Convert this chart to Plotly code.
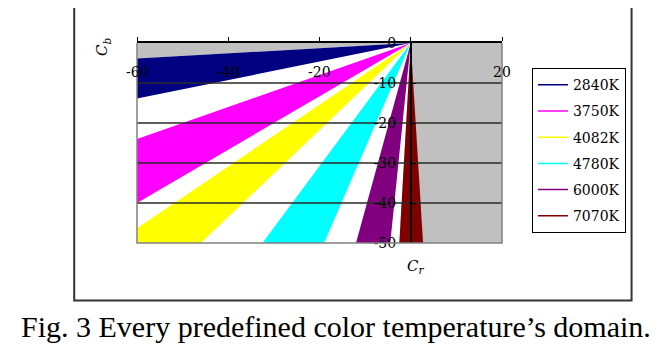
import plotly.graph_objects as go

# ---- data ----
TEMPS = ["2840K", "3750K", "4082K", "4780K", "6000K", "7070K"]
COLORS = ["#000080", "#FF00FF", "#FFFF00", "#00FFFF", "#800080", "#800000"]
# where each domain's two boundary rays (from the origin) meet the chart frame
EDGE1_CR = [-60, -60, -60, -32.5, -12.0, -2.5]
EDGE1_CB = [-3.9, -24.0, -46.3, -50, -50, -50]
EDGE2_CR = [-60, -60, -46.0, -19.0, -4.5, 2.7]
EDGE2_CB = [-13.9, -40.0, -50, -50, -50, -50]
ORIGIN = (0, 0)

CR_RANGE = [-60, 20]
CB_RANGE = [-50, 0]
GRID_CB = [-10, -20, -30, -40]
X_TICKS = [-60, -40, -20, 20]
X_TICK_TEXT = ["-60", "-40", "-20", "20"]
X_TICK_MARKS = [-60, -40, -20, 0, 20]
Y_TICKS = [0, -10, -20, -30, -40, -50]
Y_TICK_TEXT = ["0", "-10", "-20", "-30", "-40", "-50"]

SERIF = "DejaVu Serif"


def wedge(a, b):
    """Polygon from origin to frame point a, along the frame to b, back to origin."""
    xs = [ORIGIN[0], a[0]]
    ys = [ORIGIN[1], a[1]]
    a_left = a[0] == CR_RANGE[0] and a[1] > CB_RANGE[0]
    b_bottom = b[1] == CB_RANGE[0] and b[0] > CR_RANGE[0]
    if a_left and b_bottom:
        xs.append(CR_RANGE[0])
        ys.append(CB_RANGE[0])
    xs += [b[0], ORIGIN[0]]
    ys += [b[1], ORIGIN[1]]
    return xs, ys


fig = go.Figure()

# white fan behind the domains
wx, wy = wedge((EDGE1_CR[0], EDGE1_CB[0]), (EDGE1_CR[-1], EDGE1_CB[-1]))
fig.add_trace(go.Scatter(x=wx, y=wy, mode="lines", fill="toself", fillcolor="white",
                         line=dict(width=0, color="white"), showlegend=False, hoverinfo="skip"))

for i, t in enumerate(TEMPS):
    px, py = wedge((EDGE1_CR[i], EDGE1_CB[i]), (EDGE2_CR[i], EDGE2_CB[i]))
    fig.add_trace(go.Scatter(x=px, y=py, mode="lines", fill="toself", fillcolor=COLORS[i],
                             line=dict(width=0, color=COLORS[i]), showlegend=False,
                             hoverinfo="skip"))

# horizontal grid lines drawn over the domains
gx, gy = [], []
for g in GRID_CB:
    gx += [CR_RANGE[0], CR_RANGE[1], None]
    gy += [g, g, None]
fig.add_trace(go.Scatter(x=gx, y=gy, mode="lines", line=dict(color="#2a2a2a", width=1.4),
                         showlegend=False, hoverinfo="skip"))

# legend entries (lines)
for i, t in enumerate(TEMPS):
    fig.add_trace(go.Scatter(x=[None], y=[None], mode="lines", name=t,
                             line=dict(color=COLORS[i], width=1.5), legendgroup=t))

annotations = []
for v, txt in zip(X_TICKS, X_TICK_TEXT):
    annotations.append(dict(x=v, y=0.854, xref="x", yref="paper", text=txt, showarrow=False,
                            xanchor="center", yanchor="middle",
                            font=dict(family=SERIF, size=14, color="black")))
annotations.append(dict(x=-0.094, y=0.979, xref="paper", yref="paper",
                        xanchor="center", yanchor="middle",
                        text="<i>C<sub>b</sub></i>", textangle=-90, showarrow=False,
                        font=dict(family=SERIF, size=15, color="black")))
annotations.append(dict(x=1.1, y=-0.118, xref="x", yref="paper",
                        xanchor="center", yanchor="middle",
                        text="<i>C<sub>r</sub></i>", showarrow=False,
                        font=dict(family=SERIF, size=15, color="black")))
annotations.append(dict(x=0.545, y=-0.417, xref="paper", yref="paper",
                        text="Fig. 3 Every predefined color temperature\u2019s domain.",
                        showarrow=False, xanchor="center", yanchor="middle",
                        font=dict(family="Liberation Serif", size=30, color="black")))

shapes = [
    # plot-area border (left, bottom, right)
    dict(type="path", xref="paper", yref="paper", path="M0,1 L0,0 L1,0 L1,1",
         line=dict(color="#808080", width=1.5), layer="above"),
    # outer chart frame
    dict(type="rect", xref="paper", yref="paper", x0=-0.172, x1=1.355, y0=-0.288, y1=1.25,
         line=dict(color="#333333", width=2), layer="below"),
]

# the page body adds an 8px offset, so the figure is 8px smaller than the window
fig.update_layout(
    width=660, height=354, autosize=False,
    margin=dict(l=129, r=166, t=35, b=119, pad=0),
    paper_bgcolor="white", plot_bgcolor="#C0C0C0",
    xaxis=dict(range=CR_RANGE, side="top", showline=True, linecolor="black", linewidth=1.5,
               ticks="outside", ticklen=4, tickcolor="black", tickvals=X_TICK_MARKS,
               showticklabels=False, showgrid=False, zeroline=False, fixedrange=True),
    yaxis=dict(range=CB_RANGE, anchor="free", position=0.75, side="left", showline=True,
               linecolor="black", linewidth=1.5, ticks="inside", ticklen=4, tickcolor="black",
               tickvals=Y_TICKS, ticktext=Y_TICK_TEXT, ticklabelstandoff=11,
               tickfont=dict(family=SERIF, size=14, color="black"),
               showgrid=False, zeroline=False, fixedrange=True),
    legend=dict(x=1.082, y=0.874, xanchor="left", yanchor="top", bgcolor="white",
                bordercolor="black", borderwidth=1, tracegroupgap=5,
                font=dict(family=SERIF, size=14, color="black")),
    annotations=annotations,
    shapes=shapes,
    showlegend=True,
)

fig.write_html("out.html")
